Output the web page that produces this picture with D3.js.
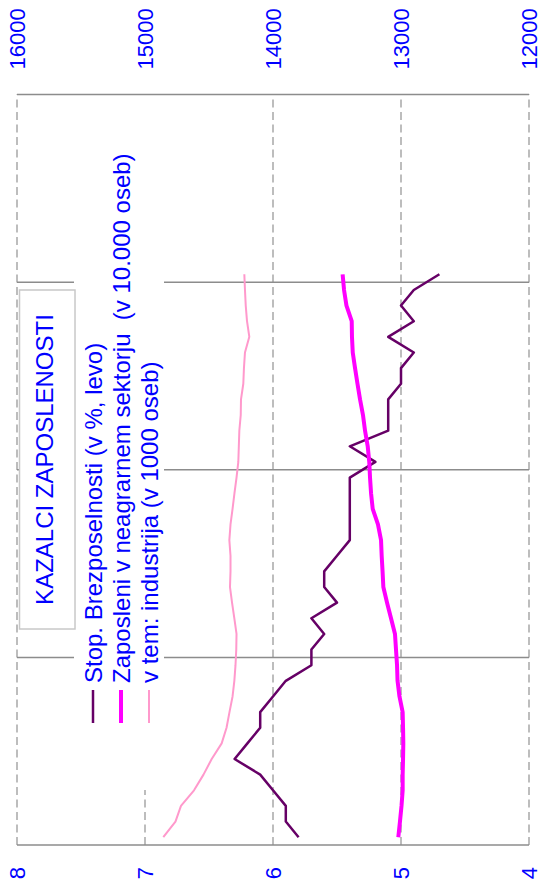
<!DOCTYPE html>
<html>
<head>
<meta charset="utf-8">
<script src="https://cdn.jsdelivr.net/npm/d3@7"></script>
<style>
  html, body { margin: 0; padding: 0; background: #fff; }
  svg { display: block; font-family: "Liberation Sans", Arial, sans-serif; }
</style>
</head>
<body>
<div id="chart"></div>
<script>
// categories: 4 years of monthly bands, data covers the first 37 months
const years = ["1. leto", "2. leto", "3. leto", "4. leto"];
const monthNames = ["jan", "feb", "mar", "apr", "maj", "jun", "jul", "avg", "sep", "okt", "nov", "dec"];
const categories = years.flatMap(y => monthNames.map(m => m + " " + y));

const leftTicks = [4, 5, 6, 7, 8];
const rightTicks = [12000, 13000, 14000, 15000, 16000];

// Stop. brezposelnosti (left axis, %)
const unemployment = [5.8, 5.9, 5.9, 6.0, 6.1, 6.3, 6.2, 6.1, 6.1, 6.0, 5.9, 5.7,
  5.7, 5.6, 5.7, 5.5, 5.6, 5.6, 5.5, 5.4, 5.4, 5.4, 5.4, 5.4,
  5.2, 5.4, 5.1, 5.1, 5.1, 5.0, 5.0, 4.9, 5.1, 4.9, 5.0, 4.9, 4.7];
// Zaposleni v neagrarnem sektorju (right axis)
const employed = [13021, 13008, 12996, 12987, 12987, 12984, 12982, 12984, 12987, 13012, 13027, 13031,
  13039, 13047, 13078, 13109, 13138, 13144, 13151, 13156, 13180, 13221, 13234, 13242,
  13248, 13260, 13281, 13297, 13320, 13340, 13359, 13377, 13383, 13385, 13426, 13445, 13456];
// v tem: industrija (right axis)
const industry = [14857, 14762, 14719, 14617, 14543, 14479, 14401, 14363, 14340, 14316, 14302, 14293,
  14287, 14285, 14302, 14320, 14336, 14332, 14332, 14341, 14332, 14316, 14301, 14285,
  14271, 14267, 14263, 14252, 14250, 14232, 14227, 14219, 14185, 14203, 14213, 14219, 14224];

const title = "KAZALCI ZAPOSLENOSTI";
const seriesNames = [
  "Stop. Brezposelnosti (v %, levo)",
  "Zaposleni v neagrarnem sektorju  (v 10.000 oseb)",
  "v tem: industrija (v 1000 oseb)"
];

const width = 541, height = 888;
// chart is drawn in its own (landscape) frame and then turned a quarter turn
const plotW = 750.5, plotH = 512;

const svg = d3.select("#chart").append("svg")
  .attr("width", width)
  .attr("height", height);

const g = svg.append("g")
  .attr("transform", "translate(17,845) rotate(-90)");

const x = d3.scaleBand().domain(categories).range([0, plotW]);
const yL = d3.scaleLinear().domain([4, 8]).range([plotH, 0]);
const yR = d3.scaleLinear().domain([12000, 16000]).range([plotH, 0]);
const cx = i => x(categories[i]) + x.bandwidth() / 2;

// dashed value grid
g.append("g").selectAll("line")
  .data(leftTicks)
  .enter().append("line")
  .attr("x1", 0).attr("x2", plotW)
  .attr("y1", d => yL(d)).attr("y2", d => yL(d))
  .attr("stroke", "#a8a8a8")
  .attr("stroke-width", 1.5)
  .attr("stroke-dasharray", "8,4.5");

// solid year separators
g.append("g").selectAll("line")
  .data(years.slice(1))
  .enter().append("line")
  .attr("x1", (d, i) => x(categories[(i + 1) * 12]))
  .attr("x2", (d, i) => x(categories[(i + 1) * 12]))
  .attr("y1", 0).attr("y2", plotH)
  .attr("stroke", "#8c8c8c")
  .attr("stroke-width", 1.5);

// white area behind legend
g.append("rect")
  .attr("x", 55).attr("y", 57)
  .attr("width", plotW - 55).attr("height", 90)
  .attr("fill", "#fff");

// axis lines
[0, plotW].forEach(px => {
  g.append("line")
    .attr("x1", px).attr("x2", px)
    .attr("y1", 0).attr("y2", plotH)
    .attr("stroke", "#8c8c8c")
    .attr("stroke-width", 1.5);
});

// axes labels
const leftAxis = g.append("g")
  .call(d3.axisLeft(yL).tickValues(leftTicks).tickSize(0).tickPadding(22).tickFormat(d3.format("d")));
const rightAxis = g.append("g")
  .attr("transform", `translate(${plotW},0)`)
  .call(d3.axisRight(yR).tickValues(rightTicks).tickSize(0).tickPadding(25).tickFormat(d3.format("d")));
[leftAxis, rightAxis].forEach(a => {
  a.select(".domain").remove();
  a.selectAll("text")
    .attr("fill", "#0000ff")
    .style("font-size", "22px")
    .style("font-family", "'Liberation Sans', Arial, sans-serif");
});

// series
const series = [
  { values: unemployment, scale: yL, color: "#660066", width: 2.5 },
  { values: employed, scale: yR, color: "#ff00ff", width: 4 },
  { values: industry, scale: yR, color: "#ff99cc", width: 2 }
];

series.forEach(s => {
  const line = d3.line()
    .x((d, i) => cx(i))
    .y(d => s.scale(d));
  g.append("path")
    .datum(s.values)
    .attr("d", line)
    .attr("fill", "none")
    .attr("stroke", s.color)
    .attr("stroke-width", s.width)
    .attr("stroke-linejoin", "round");
});

// title box
g.append("rect")
  .attr("x", 216).attr("y", 2.5)
  .attr("width", 339).attr("height", 55.5)
  .attr("fill", "#fff")
  .attr("stroke", "#c8c8c8")
  .attr("stroke-width", 1.5);
g.append("text")
  .attr("x", 385.5).attr("y", 35.5)
  .attr("text-anchor", "middle")
  .attr("fill", "#0000ff")
  .style("font-size", "24px")
  .text(title);

// legend
const legend = g.append("g").selectAll("g")
  .data(series)
  .enter().append("g")
  .attr("transform", (d, i) => `translate(0,${85 + i * 28})`);
legend.append("line")
  .attr("x1", 122).attr("x2", 155)
  .attr("y1", -9).attr("y2", -9)
  .attr("stroke", d => d.color)
  .attr("stroke-width", d => d.width);
legend.append("text")
  .attr("x", 162).attr("y", 0)
  .attr("fill", "#0000ff")
  .style("font-size", "24px")
  .style("white-space", "pre")
  .text((d, i) => seriesNames[i]);
</script>
</body>
</html>
